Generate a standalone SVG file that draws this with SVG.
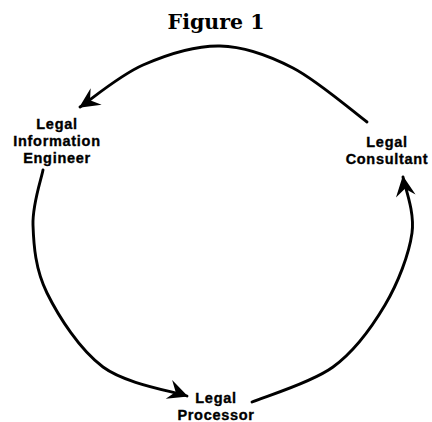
<svg xmlns="http://www.w3.org/2000/svg" width="432" height="422" viewBox="0 0 432 422">
<style>
.title{font-family:"DejaVu Serif","Liberation Serif",serif;font-weight:bold;font-size:20.5px;fill:#000;text-anchor:middle}
.lbl{font-family:"Liberation Sans",Arial,sans-serif;font-weight:bold;font-size:14.5px;letter-spacing:0.7px;fill:#000;stroke:#000;stroke-width:0.35;text-anchor:middle}
.arc{fill:none;stroke:#000;stroke-width:2.9;stroke-linecap:round}
</style>
<defs>
<marker id="barb" markerUnits="userSpaceOnUse" markerWidth="24" markerHeight="24" viewBox="-18 -10 20 20" refX="0" refY="0" orient="auto">
<path d="M1,0 L-16,-8.5 L-10,0 L-16,8 Z" fill="#000"/>
</marker>
</defs>
<rect width="432" height="422" fill="#fff"/>
<g id="title"><text class="title" x="216" y="29">Figure 1</text></g>
<g id="connectors">
<path class="arc" d="M367,122 C354.7,113 317.5,80.7 293,68 C268.5,55.3 245,46.5 220,46 C195,45.5 166.3,54.8 143,65 C119.7,75.2 90.5,100 80,107" marker-end="url(#barb)"/>
<path class="arc" d="M43,170 C41.3,179.2 32.3,204.5 33,225 C33.7,245.5 35.3,269.3 47,293 C58.7,316.7 79.7,349.8 103,367 C126.3,384.2 173,391.2 187,396" marker-end="url(#barb)"/>
<path class="arc" d="M252,402 C265.5,396.2 310.8,383.2 333,367 C355.2,350.8 371.8,327.3 385,305 C398.2,282.7 409,254.3 412,233 C415,211.7 404.5,186.3 403,177" marker-end="url(#barb)"/>
</g>
<g id="node-engineer">
<text class="lbl" x="57" y="129">Legal</text>
<text class="lbl" x="57" y="146">Information</text>
<text class="lbl" x="57" y="163">Engineer</text>
</g>
<g id="node-consultant">
<text class="lbl" x="387" y="147">Legal</text>
<text class="lbl" x="387" y="164">Consultant</text>
</g>
<g id="node-processor">
<text class="lbl" x="216" y="403">Legal</text>
<text class="lbl" x="216" y="420">Processor</text>
</g>
</svg>
